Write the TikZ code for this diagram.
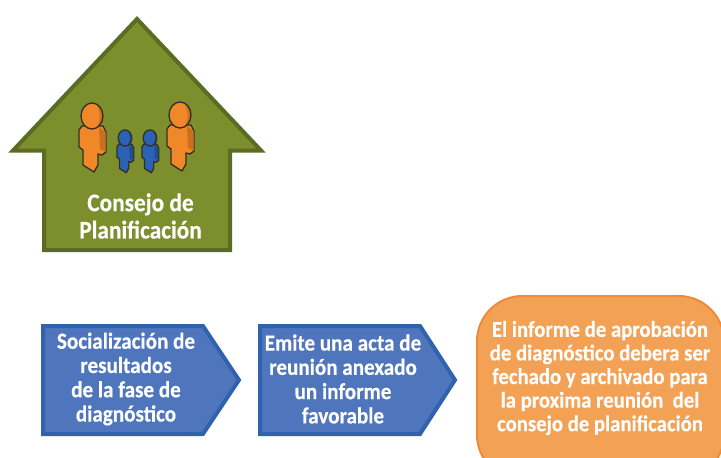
\documentclass[tikz,border=0pt]{standalone}
\usepackage{fontspec}
\setmainfont[BoldFeatures={FakeBold=0.35,FakeStretch=0.92}]{Carlito}
\definecolor{hgreen}{HTML}{7C8F2C}
\definecolor{hgreend}{HTML}{5A6C24}
\definecolor{ablue}{HTML}{4F75BC}
\definecolor{abluedark}{HTML}{3062AE}
\definecolor{rorange}{HTML}{F3A155}
\definecolor{rorangedark}{HTML}{EE8B36}
\definecolor{porange}{HTML}{F0882A}
\definecolor{porangedark}{HTML}{C8701E}
\definecolor{pblue}{HTML}{2C62B4}
\definecolor{pbluedark}{HTML}{234E8E}
\definecolor{pline}{HTML}{33302A}
\tikzset{
  chevron/.style={fill=ablue,draw=abluedark,line width=3pt,line join=miter},
  house/.style={fill=hgreen,draw=hgreend,line width=3pt,line join=miter},
  lab/.style={text=white,font=\bfseries,align=center,inner sep=0pt},
  pics/person/.style n args={2}{code={
    \path[fill=#1,draw=pline,line width=1pt,line join=round]
      (-10,10)--(11,10)--(14,16)--(14,36)--(10,39)--(6,38)--(6,49)--(2,56)--(-9,49)--(-9,34)--(-13,31)--(-13,14)--cycle;
    \path[fill=#2] (7,11)--(13.5,16)--(13.5,35.5)--(8,33)--cycle;
    \path[fill=#1] (0,0) ellipse[x radius=11,y radius=13];
    \path[fill=#2] (4,-12) .. controls (13,-8) and (13,8) .. (4,12) .. controls (9,6) and (9,-6) .. (4,-12) -- cycle;
    \path[draw=pline,line width=1pt] (0,0) ellipse[x radius=11,y radius=13];
  }}
}
\begin{document}
\begin{tikzpicture}[x=0.75pt,y=-0.75pt]
\useasboundingbox (0,0) rectangle (721,457);
% house
\draw[house] (137,19)--(261,150.5)--(230,150.5)--(230,250)--(44,250)--(44,150.5)--(13,150.5)--cycle;
\pic[scale=1,transform shape] at (92,116) {person={porange}{porangedark}};
\pic[scale=1,transform shape] at (180,115) {person={porange}{porangedark}};
\pic[scale=0.62,transform shape] at (125,138) {person={pblue}{pbluedark}};
\pic[scale=0.62,transform shape] at (150,138) {person={pblue}{pbluedark}};
\node[lab,font=\bfseries\fontsize{19}{20.5}\selectfont] (title) at (140.5,216) {Consejo de\\Planificación};
% chevrons
\draw[chevron] (43,326)--(203,326)--(239,380)--(203,434)--(43,434)--cycle;
\node[lab,font=\bfseries\fontsize{17.2}{18.2}\selectfont] (s1) at (126,379) {Socialización de\\resultados\\de la fase de\\diagnóstico};
\draw[chevron] (260,326)--(420,326)--(455,380)--(420,434)--(260,434)--cycle;
\node[lab,font=\bfseries\fontsize{17.2}{18.2}\selectfont] (s2) at (343,379) {Emite una acta de\\reunión anexado\\un informe\\favorable};
% rounded box
\begin{scope}
\clip (0,0) rectangle (721,457);
\draw[fill=rorange,draw=rorangedark,line width=1.5pt,rounded corners=34pt] (477,296) rectangle (724,480);
\end{scope}
\node[lab,font=\bfseries\fontsize{16.9}{17.7}\selectfont] (s3) at (600,378) {El informe de aprobación\\de diagnóstico debera ser\\fechado y archivado para\\la proxima reunión\ \ del\\consejo de planificación};
\end{tikzpicture}
\end{document}
